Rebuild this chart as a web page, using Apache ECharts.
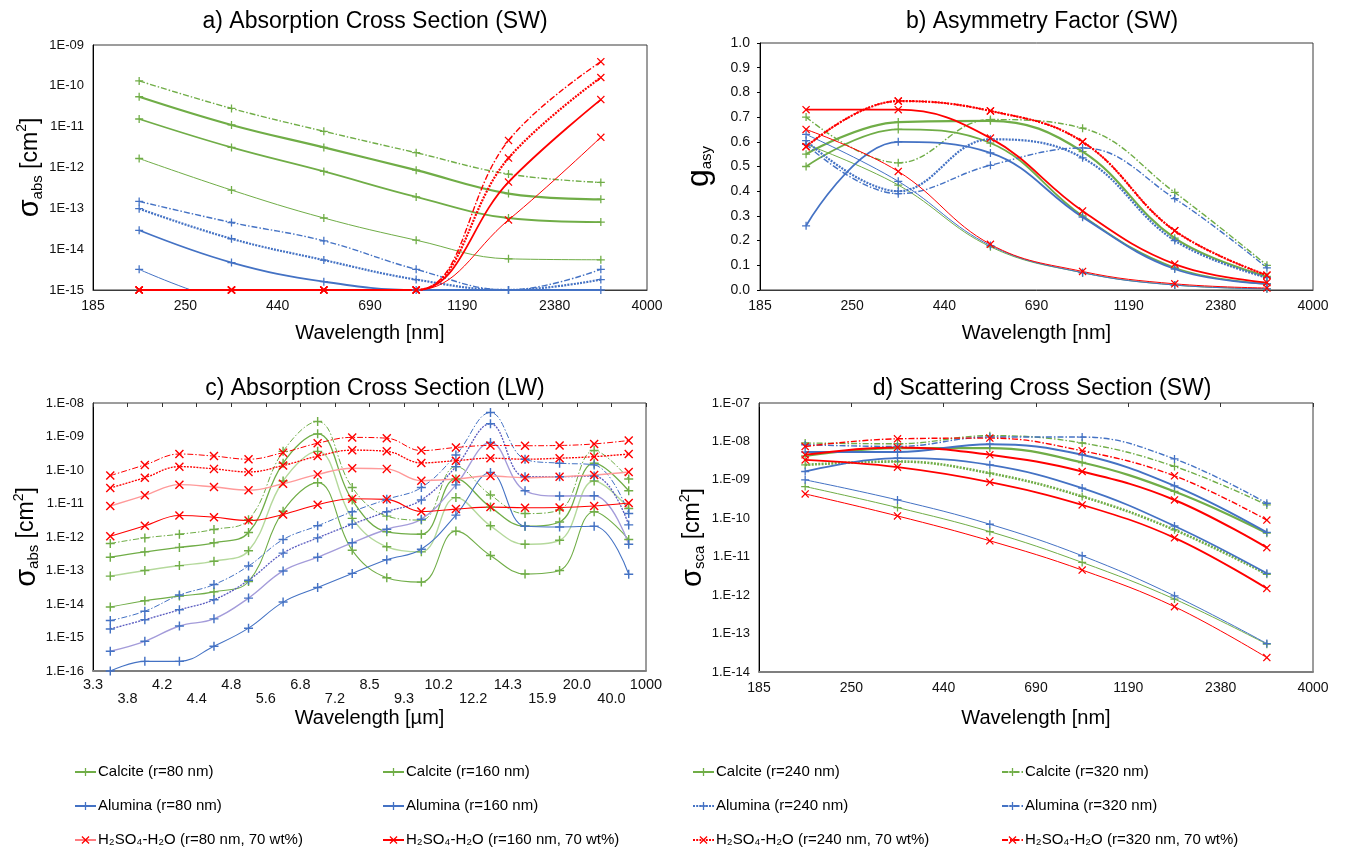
<!DOCTYPE html>
<html><head><meta charset="utf-8">
<script src="https://cdn.jsdelivr.net/npm/echarts@6.0.0/dist/echarts.min.js"></script>
<style>html,body{margin:0;padding:0;background:#fff}#c{width:1349px;height:855px}</style>
</head><body><div id="c"></div>
<script>
// ---------- tick labels ----------
const swTicks = ["185","250","440","690","1190","2380","4000"];
const lwTicks = ["3.3","3.8","4.2","4.4","4.8","5.6","6.8","7.2","8.5","9.3","10.2","12.2","14.3","15.9","20.0","40.0","1000"];

// ---------- series names ----------
const names = [
  "Calcite (r=80 nm)","Calcite (r=160 nm)","Calcite (r=240 nm)","Calcite (r=320 nm)",
  "Alumina (r=80 nm)","Alumina (r=160 nm)","Alumina (r=240 nm)","Alumina (r=320 nm)",
  "H₂SO₄-H₂O (r=80 nm, 70 wt%)","H₂SO₄-H₂O (r=160 nm, 70 wt%)","H₂SO₄-H₂O (r=240 nm, 70 wt%)","H₂SO₄-H₂O (r=320 nm, 70 wt%)"
];

// ---------- a) Absorption cross section SW ----------
const A_calcite80  = [1.66e-12, 2.8e-13, 5.8e-14, 1.66e-14, 5.8e-15, 5.5e-15];
const A_calcite160 = [1.54e-11, 3.1e-12, 8.0e-13, 1.9e-13, 5.8e-14, 4.6e-14];
const A_calcite240 = [5.4e-11, 1.1e-11, 3.1e-12, 8.6e-13, 2.3e-13, 1.66e-13];
const A_calcite320 = [1.32e-10, 2.8e-11, 7.7e-12, 2.3e-12, 6.9e-13, 4.3e-13];
const A_alumina80  = [3.2e-15, 5e-16, 3e-16, 2e-16, 2e-16, 3e-16];
const A_alumina160 = [2.9e-14, 4.7e-15, 1.6e-15, 1.0e-15, 1.0e-15, 1.0e-15];
const A_alumina240 = [9.8e-14, 1.8e-14, 5.4e-15, 1.8e-15, 1.0e-15, 1.8e-15];
const A_alumina320 = [1.48e-13, 4.5e-14, 1.6e-14, 3.2e-15, 1.0e-15, 3.2e-15];
const A_h2so4_80   = [1e-15, 1e-15, 1e-15, 1e-15, 5.2e-14, 5.5e-12];
const A_h2so4_160  = [1e-15, 1e-15, 1e-15, 1e-15, 4.4e-13, 4.6e-11];
const A_h2so4_240  = [1e-15, 1e-15, 1e-15, 1e-15, 1.7e-12, 1.6e-10];
const A_h2so4_320  = [1e-15, 1e-15, 1e-15, 1e-15, 4.6e-12, 3.9e-10];

// ---------- b) Asymmetry factor SW ----------
const B_calcite80  = [0.59, 0.425, 0.175, 0.07, 0.02, 0.005];
const B_calcite160 = [0.50, 0.65, 0.595, 0.30, 0.09, 0.025];
const B_calcite240 = [0.55, 0.68, 0.685, 0.56, 0.21, 0.055];
const B_calcite320 = [0.70, 0.515, 0.69, 0.655, 0.395, 0.10];
const B_alumina80  = [0.63, 0.44, 0.18, 0.07, 0.02, 0.005];
const B_alumina160 = [0.26, 0.60, 0.555, 0.295, 0.085, 0.025];
const B_alumina240 = [0.605, 0.40, 0.61, 0.535, 0.20, 0.05];
const B_alumina320 = [0.59, 0.39, 0.505, 0.575, 0.37, 0.09];
const B_h2so4_80   = [0.65, 0.48, 0.185, 0.075, 0.025, 0.008];
const B_h2so4_160  = [0.73, 0.73, 0.615, 0.32, 0.105, 0.03];
const B_h2so4_240  = [0.58, 0.765, 0.725, 0.60, 0.24, 0.06];
const B_h2so4_320  = [0.58, 0.765, 0.725, 0.60, 0.24, 0.06];

// ---------- c) Absorption cross section LW ----------
const C_calcite80  = [6.8e-14, 1.0e-13, 1.4e-13, 1.9e-13, 3.9e-13, 4.7e-11, 3.6e-10, 3.6e-12, 5.1e-13, 3.6e-13, 1.5e-11, 2.16e-12, 6.1e-13, 8.0e-13, 4.7e-11, 7.1e-12];
const C_calcite160 = [8.1e-15, 1.25e-14, 1.72e-14, 2.3e-14, 4.7e-14, 5.9e-12, 4.2e-11, 4.0e-13, 6.1e-14, 4.5e-14, 1.5e-12, 2.8e-13, 7.9e-14, 1.0e-13, 5.7e-12, 8.4e-13];
const C_calcite240 = [2.5e-13, 3.6e-13, 4.9e-13, 6.7e-13, 1.36e-12, 1.6e-10, 1.2e-9, 1.27e-11, 1.43e-12, 1.21e-12, 5.4e-11, 7.8e-12, 2.1e-12, 2.8e-12, 1.6e-10, 2.4e-11];
const C_calcite320 = [6.4e-13, 9.4e-13, 1.21e-12, 1.68e-12, 3.3e-12, 3.6e-10, 2.8e-9, 3.0e-11, 4.2e-12, 3.2e-12, 1.26e-10, 1.8e-11, 5.0e-12, 6.4e-12, 3.8e-10, 5.4e-11];
const C_alumina80  = [3.9e-16, 7.7e-16, 2.2e-15, 3.6e-15, 1.5e-14, 9.7e-14, 2.5e-13, 6.7e-13, 1.7e-12, 3.4e-12, 3.6e-11, 6.6e-10, 2.4e-11, 1.67e-11, 1.7e-11, 6.1e-13];
const C_alumina160 = [1.0e-16, 1.94e-16, 1.94e-16, 5.5e-16, 1.9e-15, 1.14e-14, 3.1e-14, 8.2e-14, 2.1e-13, 4.3e-13, 4.5e-12, 8.4e-11, 2.1e-12, 2.0e-12, 2.1e-12, 7.7e-14];
const C_alumina240 = [1.8e-15, 3.4e-15, 6.7e-15, 1.34e-14, 5.1e-14, 3.3e-13, 9.4e-13, 2.4e-12, 5.7e-12, 1.27e-11, 1.26e-10, 2.4e-9, 6.3e-11, 6.3e-11, 6.6e-11, 2.3e-12];
const C_alumina320 = [3.2e-15, 6.1e-15, 1.85e-14, 3.8e-14, 1.36e-13, 8.4e-13, 2.16e-12, 5.7e-12, 1.33e-11, 3.0e-11, 2.8e-10, 5.2e-9, 2.1e-10, 1.6e-10, 1.42e-10, 5.0e-12];
const C_h2so4_80   = [8.4e-12, 1.75e-11, 3.65e-11, 3.1e-11, 2.5e-11, 3.9e-11, 7.4e-11, 1.13e-10, 1.08e-10, 4.8e-11, 5.4e-11, 6.6e-11, 5.9e-11, 6.3e-11, 7.1e-11, 8.75e-11];
const C_h2so4_160  = [1.06e-12, 2.16e-12, 4.4e-12, 3.9e-12, 3.1e-12, 4.7e-12, 9.2e-12, 1.39e-11, 1.33e-11, 5.8e-12, 6.8e-12, 7.8e-12, 7.5e-12, 7.6e-12, 8.4e-12, 1.03e-11];
const C_h2so4_240  = [2.9e-11, 5.9e-11, 1.26e-10, 1.08e-10, 8.75e-11, 1.36e-10, 2.6e-10, 3.9e-10, 3.6e-10, 1.63e-10, 1.9e-10, 2.25e-10, 2.1e-10, 2.25e-10, 2.5e-10, 3.0e-10];
const C_h2so4_320  = [6.8e-11, 1.42e-10, 3.0e-10, 2.6e-10, 2.1e-10, 3.3e-10, 6.3e-10, 9.4e-10, 8.9e-10, 3.8e-10, 4.7e-10, 5.4e-10, 5.3e-10, 5.4e-10, 6.0e-10, 7.6e-10];

// ---------- d) Scattering cross section SW ----------
const D_calcite80  = [6.7e-10, 1.9e-10, 4.5e-11, 7.1e-12, 7.9e-13, 5.3e-14];
const D_calcite160 = [2.46e-9, 3.0e-9, 1.49e-9, 3.7e-10, 5.0e-11, 3.5e-12];
const D_calcite240 = [4.2e-9, 6.7e-9, 6.7e-9, 2.83e-9, 5.0e-10, 4.1e-11];
const D_calcite320 = [9.1e-9, 8.7e-9, 1.41e-8, 9.1e-9, 2.23e-9, 2.23e-10];
const D_alumina80  = [1.0e-9, 3.0e-10, 7.0e-11, 1.06e-11, 9.6e-13, 5.5e-14];
const D_alumina160 = [1.65e-9, 3.67e-9, 2.46e-9, 6.1e-10, 6.3e-11, 3.7e-12];
const D_alumina240 = [5.3e-9, 5.3e-9, 8.5e-9, 4.5e-9, 7.0e-10, 4.3e-11];
const D_alumina320 = [8.2e-9, 7.4e-9, 1.3e-8, 1.3e-8, 3.5e-9, 2.46e-10];
const D_h2so4_80   = [4.3e-10, 1.15e-10, 2.6e-11, 4.5e-12, 5.0e-13, 2.37e-14];
const D_h2so4_160  = [3.3e-9, 2.14e-9, 8.7e-10, 2.23e-10, 3.1e-11, 1.49e-12];
const D_h2so4_240  = [4.5e-9, 7.0e-9, 4.5e-9, 1.65e-9, 3.0e-10, 1.72e-11];
const D_h2so4_320  = [7.4e-9, 1.17e-8, 1.22e-8, 5.7e-9, 1.27e-9, 9.0e-11];

// ---------- build ----------
const F = '"Liberation Sans", Arial, sans-serif';
const MATS = ['calcite','calcite','calcite','calcite','alumina','alumina','alumina','alumina','h2so4','h2so4','h2so4','h2so4'];
const RADII = [80,160,240,320,80,160,240,320,80,160,240,320];
const COL = {calcite:'#70AD47', alumina:'#4472C4', h2so4:'#FF0000'};
const PALE = {calcite:'#B5D99C', alumina:'#A49CDA', h2so4:'#FF9A9A'};
const PLUS = 'path://M4.2,0H5.8V4.2H10V5.8H5.8V10H4.2V5.8H0V4.2H4.2Z';
const CROSS = 'path://M1.1,0L5,3.9L8.9,0L10,1.1L6.1,5L10,8.9L8.9,10L5,6.1L1.1,10L0,8.9L3.9,5L0,1.1Z';

const panels = [
  [A_calcite80,A_calcite160,A_calcite240,A_calcite320,A_alumina80,A_alumina160,A_alumina240,A_alumina320,A_h2so4_80,A_h2so4_160,A_h2so4_240,A_h2so4_320],
  [B_calcite80,B_calcite160,B_calcite240,B_calcite320,B_alumina80,B_alumina160,B_alumina240,B_alumina320,B_h2so4_80,B_h2so4_160,B_h2so4_240,B_h2so4_320],
  [C_calcite80,C_calcite160,C_calcite240,C_calcite320,C_alumina80,C_alumina160,C_alumina240,C_alumina320,C_h2so4_80,C_h2so4_160,C_h2so4_240,C_h2so4_320],
  [D_calcite80,D_calcite160,D_calcite240,D_calcite320,D_alumina80,D_alumina160,D_alumina240,D_alumina320,D_h2so4_80,D_h2so4_160,D_h2so4_240,D_h2so4_320]
];

function lineStyleFor(mat, r, p) {
  const s = {color: COL[mat], width: 1, type: 'solid'};
  if (r === 160) s.width = 1.8;
  if (r === 240) { s.width = 2.2; if (mat !== 'calcite') s.type = [2, 1.2]; }
  if (r === 320) { s.width = 1.4; s.type = [6, 2, 1.5, 2]; }
  if (p === 2) {
    s.width = Math.max(1, s.width * 0.6);
    if (r === 80) { s.color = PALE[mat]; s.width = 1.4; }
    if (mat === 'alumina' && r === 240) s.color = '#5A5CC0';
  }
  if (p === 3) {
    if (mat === 'calcite' && r === 160) { s.type = [2, 1.3]; s.width = 2.6; }
    if (r === 240 && mat !== 'calcite') { s.type = 'solid'; s.width = 2; }
  }
  return s;
}

const series = [];
panels.forEach((arrs, p) => {
  arrs.forEach((vals, k) => {
    const mat = MATS[k];
    series.push({
      type: 'line', name: names[k], xAxisIndex: p, yAxisIndex: p,
      data: vals.map((v, i) => [i + 0.5, v]),
      smooth: 0.4, clip: true,
      symbol: mat === 'h2so4' ? CROSS : PLUS,
      symbolSize: p === 2 ? 9 : 8,
      itemStyle: {color: COL[mat]},
      lineStyle: lineStyleFor(mat, RADII[k], p),
      emphasis: {disabled: true}, z: 3
    });
  });
});

function expFmt(prefix) {
  return v => {
    const e = Math.round(Math.log10(v));
    return prefix + (e < 0 ? '-' : '+') + String(Math.abs(e)).padStart(2, '0');
  };
}

const rich = {
  s: {fontSize: 29, fontFamily: F, color: '#000', lineHeight: 30},
  g: {fontSize: 32, fontFamily: F, color: '#000', lineHeight: 30},
  sub: {fontSize: 15, fontFamily: F, color: '#000', lineHeight: 12, verticalAlign: 'bottom'},
  t: {fontSize: 23, fontFamily: F, color: '#000', lineHeight: 30},
  sup: {fontSize: 14, fontFamily: F, color: '#000', lineHeight: 12, verticalAlign: 'top'}
};

const grids = [
  {left: 93, top: 45, width: 554, height: 245},
  {left: 760, top: 43, width: 553, height: 247},
  {left: 93, top: 403, width: 553, height: 268},
  {left: 759, top: 403, width: 554, height: 269}
].map(g => Object.assign(g, {show: true, borderColor: '#3a3a3a', borderWidth: 1, backgroundColor: 'transparent', containLabel: false, outerBoundsMode: 'none'}));

const ylab = {fontSize: 13, fontFamily: F, color: '#111'};
const xlab = {fontSize: 14, fontFamily: F, color: '#111'};
const xName = {fontSize: 20, fontFamily: F, color: '#000'};

function swX(gi) {
  return {
    gridIndex: gi, type: 'value', min: 0, max: 6, interval: 1,
    axisLabel: Object.assign({formatter: v => swTicks[Math.round(v)], margin: 9}, xlab),
    axisLine: {show: true, lineStyle: {color: gi === 3 ? '#7f7f7f' : '#3a3a3a', width: gi === 3 ? 2 : 1}},
    axisTick: {show: false}, splitLine: {show: false},
    name: 'Wavelength [nm]', nameLocation: 'middle', nameGap: gi === 3 ? 36 : 33, nameTextStyle: xName
  };
}

const xAxes = [
  swX(0), swX(1),
  {
    gridIndex: 2, type: 'value', min: 0, max: 16, interval: 1,
    axisLabel: {formatter: v => { const i = Math.round(v); return i % 2 ? '\n' + lwTicks[i] : lwTicks[i]; },
                margin: 7, lineHeight: 14, fontSize: 14.5, fontFamily: F, color: '#111'},
    axisLine: {show: true, lineStyle: {color: '#7f7f7f', width: 2}},
    axisTick: {show: false}, splitLine: {show: false},
    name: 'Wavelength [µm]', nameLocation: 'middle', nameGap: 37, nameTextStyle: xName
  },
  swX(3),
  {gridIndex: 2, type: 'value', min: 0, max: 16, interval: 1, position: 'top',
   axisLabel: {show: false}, axisLine: {show: false}, splitLine: {show: false},
   axisTick: {show: true, inside: true, length: 4, lineStyle: {color: '#333'}}},
  {gridIndex: 3, type: 'value', min: 0, max: 6, interval: 1, position: 'top',
   axisLabel: {show: false}, axisLine: {show: false}, splitLine: {show: false},
   axisTick: {show: true, inside: true, length: 4, lineStyle: {color: '#333'}}}
];

function logY(gi, min, max, n, prefix, nameStr, gap) {
  return {
    gridIndex: gi, type: 'log', logBase: 10, min: min, max: max, splitNumber: n,
    axisLabel: Object.assign({formatter: expFmt(prefix), margin: 9}, ylab),
    axisLine: {show: true, lineStyle: {color: '#000'}},
    axisTick: {show: false}, splitLine: {show: false}, minorTick: {show: false},
    name: nameStr, nameLocation: 'middle', nameRotate: 90, nameGap: gap,
    nameTextStyle: {rich: rich}
  };
}

const yAxes = [
  logY(0, 1e-15, 1e-9, 6, '1E', '{s|σ}{sub|abs}{t| [cm}{sup|2}{t|]}', 47),
  {
    gridIndex: 1, type: 'value', min: 0, max: 1, interval: 0.1,
    axisLabel: {formatter: v => v.toFixed(1), margin: 10, fontSize: 14, fontFamily: F, color: '#111'},
    axisLine: {show: true, lineStyle: {color: '#000'}},
    axisTick: {show: true, length: 3}, splitLine: {show: false},
    name: '{g|g}{sub|asy}', nameLocation: 'middle', nameRotate: 90, nameGap: 46,
    nameTextStyle: {rich: rich}
  },
  logY(2, 1e-16, 1e-8, 8, '1.E', '{s|σ}{sub|abs}{t| [cm}{sup|2}{t|]}', 47),
  logY(3, 1e-14, 1e-7, 7, '1.E', '{s|σ}{sub|sca}{t| [cm}{sup|2}{t|]}', 44)
];

const titleStyle = {fontSize: 23, fontWeight: 'normal', fontFamily: F, color: '#000'};
const titles = [
  {text: 'a) Absorption Cross Section (SW)', left: 370, top: 5},
  {text: 'b) Asymmetry Factor (SW)', left: 1037, top: 5},
  {text: 'c) Absorption Cross Section (LW)', left: 370, top: 372},
  {text: 'd) Scattering Cross Section (SW)', left: 1037, top: 372}
].map(t => Object.assign(t, {textAlign: 'center', textStyle: titleStyle}));

// legend: 3 rows x 4 columns, one component per entry
const colLefts = [74, 382, 692, 1001];
const rowTops = [762, 796, 830];
const legends = [];
for (let row = 0; row < 3; row++) {
  for (let col = 0; col < 4; col++) {
    const k = row * 4 + col;
    const item = {name: names[k]};
    if (k === 8) item.lineStyle = {color: '#FF7C80', width: 2};
    legends.push({
      left: colLefts[col], top: rowTops[row], orient: 'horizontal',
      itemWidth: 21, itemHeight: 10, itemGap: 0, padding: 0,
      textStyle: {fontSize: 15, fontFamily: F, color: '#000', lineHeight: 20, padding: [0, 0, 0, -3]},
      data: [item]
    });
  }
}

const chart = echarts.init(document.getElementById('c'), null, {renderer: 'canvas'});
chart.setOption({
  animation: false,
  backgroundColor: '#fff',
  title: titles,
  legend: legends,
  grid: grids,
  xAxis: xAxes,
  yAxis: yAxes,
  series: series
});
</script></body></html>
